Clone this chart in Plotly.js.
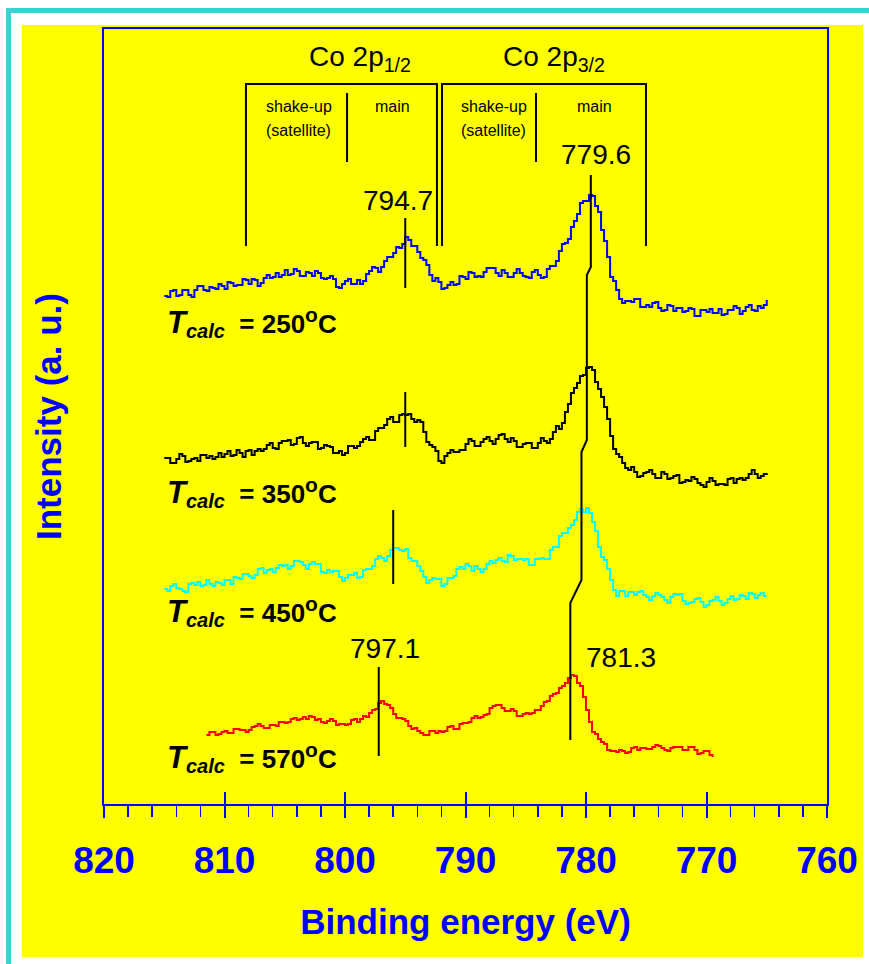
<!DOCTYPE html>
<html>
<head>
<meta charset="utf-8">
<script src="https://cdn.plot.ly/plotly-3.0.1.min.js"></script>
<style>
html, body { margin: 0; padding: 0; background: #ffffff; }
#chart { width: 869px; height: 964px; }
</style>
</head>
<body>
<div id="chart"></div>
<script>
// ---------------- DATA ----------------
// Binding-energy grids (eV): start, end, step
const grid250 = [815.0, 765.0, 0.25];
const grid350 = [815.0, 765.0, 0.25];
const grid450 = [815.0, 765.0, 0.25];
const grid570 = [811.5, 769.5, 0.25];

// Intensities (a.u., stacked with offsets)
const int250 = [508,507,513,514,508,509,514,514,509,507,514,518,518,514,513,517,516,515,520,518,
                515,522,521,518,519,519,525,524,520,525,524,518,521,526,529,526,527,531,527,529,
                534,529,530,535,533,528,528,532,531,528,533,531,526,525,526,528,525,517,516,520,
                523,525,520,520,524,520,523,530,533,537,536,532,537,543,547,547,551,557,556,560,
                567,564,558,558,552,546,544,539,529,523,526,522,515,516,519,522,519,520,528,527,
                525,532,531,527,528,527,532,536,536,536,531,528,534,531,527,527,531,535,531,528,
                527,526,532,534,529,526,527,535,538,538,543,553,560,561,565,577,583,590,601,603,
                603,609,608,598,592,574,563,547,527,523,514,505,501,503,503,502,505,505,497,497,
                499,497,501,502,496,493,494,499,498,493,496,496,492,493,496,495,488,488,494,494,
                492,495,491,491,495,489,490,494,494,498,496,490,493,497,499,494,493,498,496,499,
                504];
const int350 = [346,346,341,341,345,350,348,342,343,345,346,343,349,349,346,348,345,347,351,347,
                350,353,348,349,354,351,347,353,354,349,353,355,353,355,359,361,356,355,361,363,
                363,364,359,360,366,367,361,358,361,362,362,355,356,359,358,357,351,351,353,349,
                351,358,358,356,358,362,365,367,364,364,373,376,376,379,385,387,382,382,389,390,
                389,390,385,382,384,382,372,362,359,357,353,343,341,348,351,354,352,352,354,354,
                360,365,363,358,358,362,365,367,363,360,365,369,370,365,362,366,363,357,357,360,
                361,361,356,356,361,366,363,361,365,372,378,375,381,392,400,411,416,421,428,429,
                436,437,434,422,415,407,397,385,368,355,350,347,341,336,334,337,332,327,328,331,
                332,334,330,326,326,332,330,325,326,328,329,321,322,324,323,327,325,321,319,317,
                322,326,323,319,320,320,319,325,326,321,325,326,324,326,330,334,330,326,328,330,
                331];
const int450 = [215,213,218,220,216,215,213,212,220,221,219,222,218,219,224,220,218,222,221,219,
                224,224,220,227,226,225,230,230,228,226,229,235,236,231,234,235,232,236,239,238,
                239,235,238,243,243,242,239,235,240,242,240,240,232,231,234,232,233,233,227,223,
                226,229,229,231,226,227,234,235,235,238,245,248,246,243,248,254,256,256,254,253,
                255,246,243,243,238,233,227,221,224,226,225,225,218,220,226,226,228,235,237,235,
                240,238,233,238,235,232,235,240,243,241,244,246,243,242,249,248,244,245,245,244,
                245,239,239,245,245,246,245,245,254,257,257,268,271,271,276,279,284,292,295,292,
                296,291,282,273,257,247,244,235,224,214,208,213,213,208,212,212,209,212,213,209,
                207,204,208,211,209,207,204,201,207,210,209,210,203,200,201,202,205,206,202,197,
                199,203,204,207,203,199,201,205,208,204,205,209,208,205,211,210,206,209,211,208,
                208];
const int570 = [69,72,72,69,70,72,73,71,71,75,75,74,74,72,74,77,78,80,78,76,
                76,79,79,78,82,82,81,82,85,86,84,85,87,85,88,87,84,85,82,81,
                83,85,83,79,80,80,79,80,84,85,82,85,88,87,91,94,95,101,103,100,
                99,96,90,86,86,85,83,78,75,76,73,71,69,69,73,73,71,73,72,73,
                77,78,75,75,80,81,81,82,86,88,86,87,89,90,96,98,99,99,96,93,
                93,95,93,88,88,90,91,90,91,94,94,98,102,103,108,110,111,116,118,121,
                126,129,128,121,118,107,94,82,72,70,65,62,60,54,53,53,52,54,53,51,
                52,56,57,54,56,56,55,55,57,59,58,56,54,53,56,57,57,57,54,54,
                57,57,54,50,51,53,53,49,47];

// Peak-position marker lines
const peak2p32X = [779.6, 779.6, 779.93, 779.93, 780.375, 780.375, 781.3, 781.3];
const peak2p32Y = [629, 537, 529, 364, 352, 224, 201, 64];
const peak2p12X = [795.0, 795.0, null, 795.0, 795.0, null, 796.0, 796.0, null, 797.2, 797.2];
const peak2p12Y = [586, 516, null, 412, 357, null, 294, 220, null, 137, 48];

// Labels
const tempLabels = ['250', '350', '450', '570'];
const peakLabels = ['794.7', '779.6', '797.1', '781.3'];
const xTickVals = [820, 810, 800, 790, 780, 770, 760];

// ---------------- HELPERS ----------------
function makeGrid(g) {
  const out = [];
  const n = Math.round((g[0] - g[1]) / g[2]);
  for (let i = 0; i <= n; i++) out.push(+(g[0] - i * g[2]).toFixed(3));
  return out;
}
// pixel -> paper (plot area: x 104..827, y 29..804)
const PL = 104, PR = 827, PT = 29, PB = 804;
const px = v => (v - PL) / (PR - PL);
const py = v => (PB - v) / (PB - PT);

const FONT = "Arial, 'Liberation Sans', sans-serif";
const BLUE = '#0000FF';

function spec(x, y, color, shape) {
  return { x: x, y: y, type: 'scatter', mode: 'lines',
           line: { color: color, width: 2, shape: shape || 'linear' },
           hoverinfo: 'skip', showlegend: false };
}

const traces = [
  spec(makeGrid(grid250), int250, '#0000FF', 'hv'),
  spec(makeGrid(grid350), int350, '#000000', 'hv'),
  spec(makeGrid(grid450), int450, '#00FFFF', 'hv'),
  spec(makeGrid(grid570), int570, '#FF0000', 'hv'),
  spec(peak2p32X, peak2p32Y, '#000000'),
  Object.assign(spec(peak2p12X, peak2p12Y, '#000000'), { connectgaps: false }),
  // invisible trace on xaxis2 (carries the inward half of the major ticks)
  { x: [820, 760], y: [0, 0], xaxis: 'x2', yaxis: 'y', type: 'scatter', mode: 'none',
    hoverinfo: 'skip', showlegend: false }
];

const shapes = [
  // yellow page panel
  { type: 'rect', xref: 'paper', yref: 'paper', x0: px(22), x1: px(863), y0: py(957), y1: py(25),
    fillcolor: '#FFFF00', line: { width: 0 }, layer: 'below' },
  // cyan frame (top and left)
  { type: 'rect', xref: 'paper', yref: 'paper', x0: px(6), x1: px(869), y0: py(13), y1: py(8),
    fillcolor: '#3DD0D0', line: { width: 0 }, layer: 'below' },
  { type: 'rect', xref: 'paper', yref: 'paper', x0: px(6), x1: px(11), y0: py(964), y1: py(8),
    fillcolor: '#3DD0D0', line: { width: 0 }, layer: 'below' },
  // Co 2p1/2 bracket
  { type: 'path', xref: 'x', yref: 'y', path: 'M 808.22 558 L 808.22 720 L 792.37 720 L 792.37 558',
    line: { color: '#000000', width: 2 } },
  { type: 'line', xref: 'x', yref: 'y', x0: 799.83, x1: 799.83, y0: 711, y1: 642,
    line: { color: '#000000', width: 2 } },
  // Co 2p3/2 bracket
  { type: 'path', xref: 'x', yref: 'y', path: 'M 791.95 558 L 791.95 720 L 775.02 720 L 775.02 558',
    line: { color: '#000000', width: 2 } },
  { type: 'line', xref: 'x', yref: 'y', x0: 784.15, x1: 784.15, y0: 711, y1: 642,
    line: { color: '#000000', width: 2 } }
];

function ann(text, x, y, size, opts) {
  return Object.assign({ text: text, x: x, y: y, xref: 'x', yref: 'y', showarrow: false,
    font: { family: FONT, size: size, color: '#000000' }, xanchor: 'center', yanchor: 'middle' }, opts || {});
}
function tLabel(t, y) {
  return ann('<b><i><span style="font-size:31px">T</span></i></b>' +
             '<sub><b><i><span style="font-size:20px">calc</span></i></b></sub>' +
             '<b>  = ' + t + '<sup><span style="font-size:21px">o</span></sup>C</b>',
             814.9, y, 26, { xanchor: 'left' });
}

const annotations = [
  ann('Co 2p<sub>1/2</sub>', 798.75, 746, 28),
  ann('Co 2p<sub>3/2</sub>', 782.67, 746, 28),
  ann('shake-up', 803.83, 698, 16),
  ann('(satellite)', 803.83, 674, 16),
  ann('main', 796.08, 698, 16),
  ann('shake-up', 787.67, 698, 16),
  ann('(satellite)', 787.67, 674, 16),
  ann('main', 779.33, 698, 16),
  ann(peakLabels[0], 795.58, 604, 28),
  ann(peakLabels[1], 779.17, 650, 28),
  ann(peakLabels[2], 796.67, 156, 28),
  ann(peakLabels[3], 777.13, 147, 28),
  tLabel(tempLabels[0], 482),
  tLabel(tempLabels[1], 312),
  tLabel(tempLabels[2], 193),
  tLabel(tempLabels[3], 47)
];

const layout = {
  width: 869, height: 964,
  margin: { l: PL, r: 869 - PR, t: PT, b: 964 - PB, pad: 0 },
  paper_bgcolor: '#FFFFFF',
  plot_bgcolor: '#FFFF00',
  showlegend: false,
  xaxis: {
    range: [820, 760], tickvals: xTickVals, ticktext: xTickVals.map(String),
    showline: true, mirror: true, linecolor: BLUE, linewidth: 2,
    ticks: 'outside', ticklen: 12, tickwidth: 2, tickcolor: BLUE,
    minor: { dtick: 2, tick0: 760, ticks: 'outside', ticklen: 11, tickwidth: 1.5, tickcolor: BLUE },
    showgrid: false, zeroline: false,
    tickfont: { family: FONT, size: 37, color: BLUE, weight: 'bold' },
    ticklabelstandoff: 11,
    title: { text: 'Binding energy (eV)', standoff: 29,
             font: { family: FONT, size: 35, color: BLUE, weight: 'bold' } }
  },
  xaxis2: {
    range: [820, 760], overlaying: 'x', anchor: 'y', side: 'bottom',
    tickvals: xTickVals, ticks: 'inside', ticklen: 12, tickwidth: 2, tickcolor: BLUE,
    showticklabels: false, showline: false, showgrid: false, zeroline: false
  },
  yaxis: {
    range: [0, 775], showline: true, mirror: true, linecolor: BLUE, linewidth: 2,
    ticks: '', showticklabels: false, showgrid: false, zeroline: false,
    title: { text: 'Intensity (a. u.)', standoff: 30,
             font: { family: FONT, size: 35, color: BLUE, weight: 'bold' } }
  },
  shapes: shapes,
  annotations: annotations
};

Plotly.newPlot('chart', traces, layout, { displayModeBar: false, staticPlot: true });
</script>
</body>
</html>
